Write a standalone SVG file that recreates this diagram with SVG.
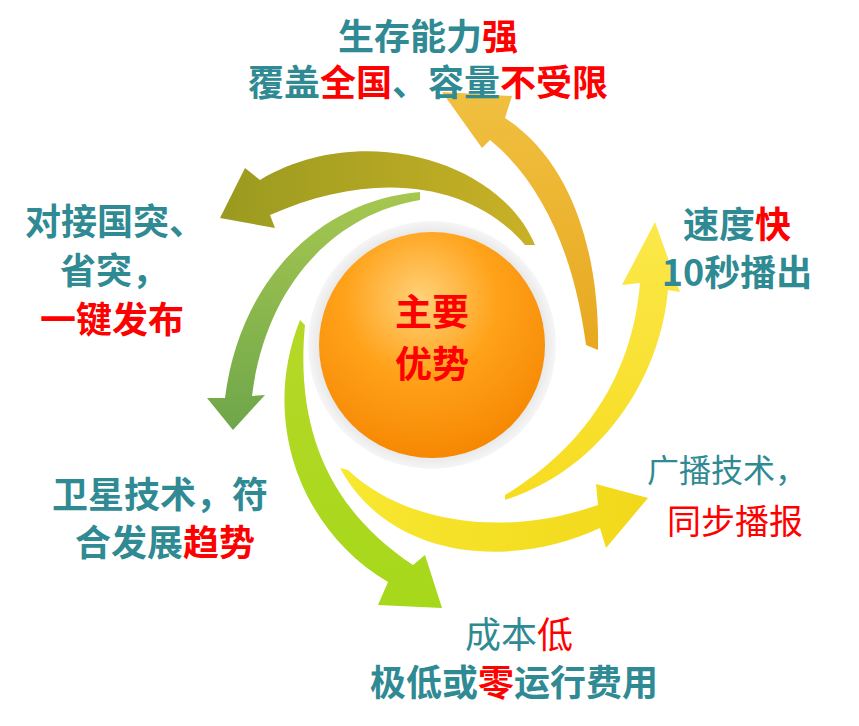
<svg xmlns="http://www.w3.org/2000/svg" width="859" height="726" viewBox="0 0 859 726">
<style>
text{font-family:"Noto Sans CJK SC","Noto Sans",sans-serif;font-size:36px;fill:#2f8a93;font-weight:bold}
.r{fill:#ff0000}
.n{font-weight:normal}
.c{font-size:37px;fill:#ff0000;text-anchor:middle}
</style>
<defs>
<linearGradient id="gGold" x1="0" y1="1" x2="0" y2="0"><stop offset="0" stop-color="#e8a820"/><stop offset="1" stop-color="#f0c040"/></linearGradient>
<linearGradient id="gOlive" x1="1" y1="0" x2="0" y2="0"><stop offset="0" stop-color="#c9b126"/><stop offset="1" stop-color="#9a9a20"/></linearGradient>
<linearGradient id="gGreen" x1="0" y1="0" x2="0" y2="1"><stop offset="0" stop-color="#a6c750"/><stop offset="1" stop-color="#6ea64a"/></linearGradient>
<linearGradient id="gLime" x1="0" y1="0" x2="0" y2="1"><stop offset="0" stop-color="#b6d828"/><stop offset="1" stop-color="#a6d81a"/></linearGradient>
<linearGradient id="gYel" x1="0" y1="0" x2="1" y2="0"><stop offset="0" stop-color="#f7e830"/><stop offset="1" stop-color="#f2d81a"/></linearGradient>
<linearGradient id="gYel2" x1="0" y1="1" x2="0" y2="0"><stop offset="0" stop-color="#f7dc20"/><stop offset="1" stop-color="#fbe84a"/></linearGradient>
<radialGradient id="gSph" cx="0.45" cy="0.3" r="0.75"><stop offset="0" stop-color="#ffd27a"/><stop offset="0.45" stop-color="#ffa21a"/><stop offset="1" stop-color="#f58400"/></radialGradient>
<radialGradient id="gRing" cx="0.5" cy="0.5" r="0.5"><stop offset="0.85" stop-color="#e0e0e0"/><stop offset="1" stop-color="#f6f6f6"/></radialGradient>
</defs>
<g id="connectors">
<path id="a-gold" fill="url(#gGold)" d="M598,350 C600,250 570,160 505,118 L512,96 L442,92 L482,148 L490,140 C545,185 575,260 586,345 Z"/>
<path id="a-olive" fill="url(#gOlive)" d="M535,245 C500,160 360,120 260,180 L245,168 L220,218 L275,228 L270,215 C370,170 470,180 525,245 Z"/>
<path id="a-green" fill="url(#gGreen)" d="M420,192 C320,200 240,280 225,398 L207,398 L233,430 L265,395 L252,396 C265,290 330,215 420,200 Z"/>
<path id="a-lime" fill="url(#gLime)" d="M300,320 C260,420 300,530 388,582 L378,605 L442,608 L425,555 L413,565 C330,510 295,430 305,325 Z"/>
<path id="a-yel" fill="url(#gYel)" d="M340,468 C390,560 510,570 600,528 L606,548 L648,498 L596,484 L598,505 C500,540 400,520 348,470 Z"/>
<path id="a-yel2" fill="url(#gYel2)" d="M505,500 C600,470 660,380 668,290 L680,292 L655,222 L622,285 L640,283 C632,380 580,450 505,495 Z"/>
</g>
<g id="center">
<circle cx="432" cy="345" r="124" fill="url(#gRing)"/>
<circle cx="432" cy="345" r="113" fill="url(#gSph)"/>
<text class="c" x="432" y="326">主要</text>
<text class="c" x="432" y="378">优势</text>
</g>
<g id="n-top"><text x="428" y="50" text-anchor="middle">生存能力<tspan class="r">强</tspan></text>
<text x="428" y="96" text-anchor="middle">覆盖<tspan class="r">全国</tspan>、容量<tspan class="r">不受限</tspan></text></g>
<g id="n-right"><text x="737" y="238" text-anchor="middle">速度<tspan class="r">快</tspan></text>
<text x="737" y="286" text-anchor="middle">10秒播出</text></g>
<g id="n-left"><text x="25" y="235">对接国突、</text><text x="60" y="284">省突，</text><text x="40" y="333" class="r">一键发布</text></g>
<g id="n-bl"><text x="52" y="508">卫星技术，符</text><text x="75" y="556">合发展<tspan class="r">趋势</tspan></text></g>
<g id="n-br"><text x="647" y="482" class="n" style="font-size:32px">广播技术，</text><text x="667" y="534" class="n r" style="font-size:34px">同步播报</text></g>
<g id="n-bottom"><text x="465" y="648" class="n">成本<tspan class="r">低</tspan></text><text x="370" y="696">极低或<tspan class="r">零</tspan>运行费用</text></g>
</svg>
